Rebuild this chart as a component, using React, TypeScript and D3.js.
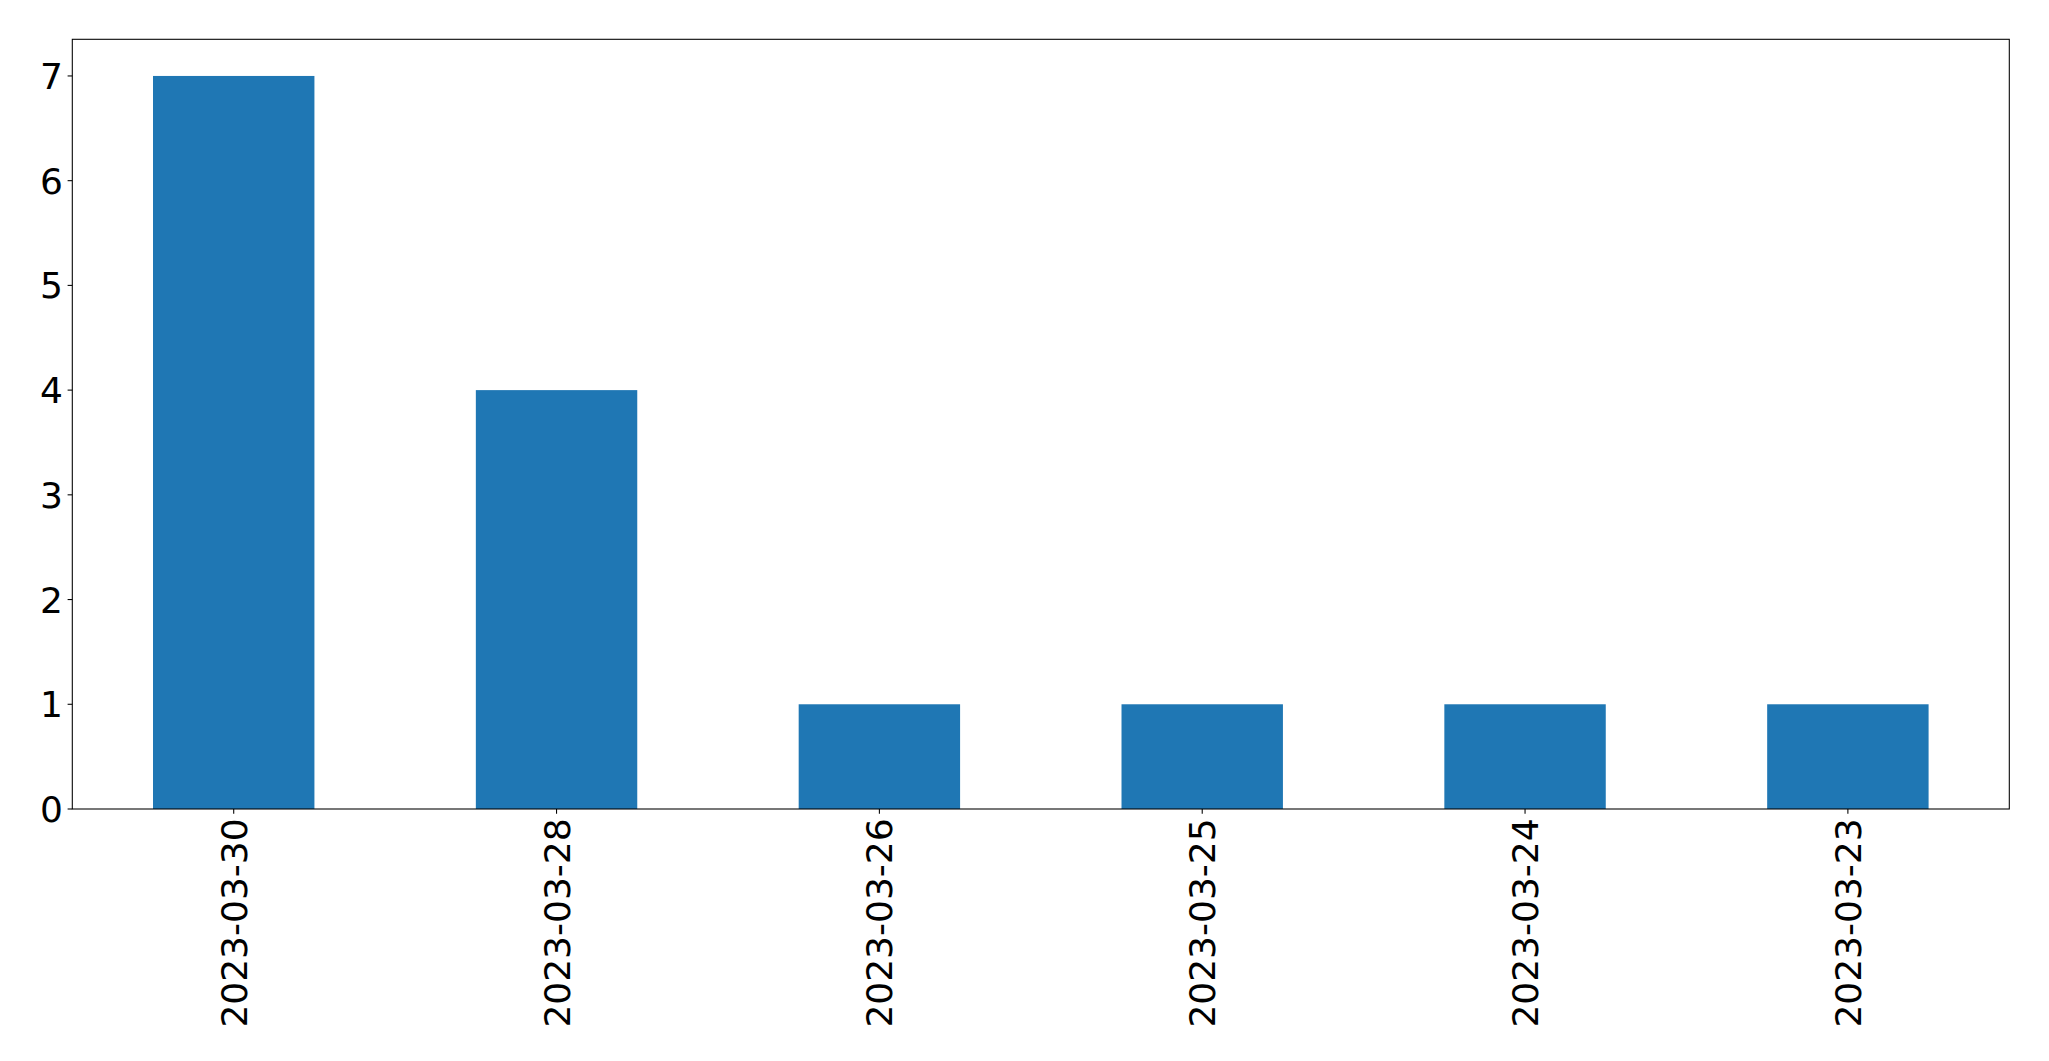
import React, { useEffect, useRef } from "react";
import * as d3 from "d3";

const categories = ["2023-03-30", "2023-03-28", "2023-03-26", "2023-03-25", "2023-03-24", "2023-03-23"];
const counts = [7, 4, 1, 1, 1, 1];
const yTicks = [0, 1, 2, 3, 4, 5, 6, 7];

const W = 2049;
const H = 1061;
const left = 72.3;
const right = 2009.3;
const top = 39.3;
const bottom = 809;
const FONT = "DejaVu Sans, sans-serif";
const FS = 36;

export default function App() {
  const ref = useRef<SVGSVGElement>(null);
  useEffect(() => {
    const svg = d3.select(ref.current);
    svg.selectAll("*").remove();
    const x = d3.scaleBand<string>().domain(categories).range([left, right]).paddingInner(0.5).paddingOuter(0.25);
    const y = d3.scaleLinear().domain([0, 7.35]).range([bottom, top]);

    svg.append("rect").attr("width", W).attr("height", H).attr("fill", "white");

    svg.append("g")
      .selectAll("rect")
      .data(categories)
      .join("rect")
      .attr("x", (d) => x(d)!)
      .attr("width", x.bandwidth())
      .attr("y", (d, i) => y(counts[i]))
      .attr("height", (d, i) => y(0) - y(counts[i]))
      .attr("fill", "#1f77b4");

    // spines
    svg.append("rect")
      .attr("x", left).attr("y", top)
      .attr("width", right - left).attr("height", bottom - top)
      .attr("fill", "none").attr("stroke", "black").attr("stroke-width", 1.07);

    // y axis
    const yg = svg.append("g");
    yTicks.forEach((t) => {
      yg.append("line").attr("x1", left - 4.7).attr("x2", left).attr("y1", y(t)).attr("y2", y(t))
        .attr("stroke", "black").attr("stroke-width", 1.07);
      yg.append("text").attr("x", left - 9.4).attr("y", y(t)).attr("dy", "0.36em")
        .attr("text-anchor", "end").attr("font-family", FONT).attr("font-size", FS).attr("fill", "black")
        .text(String(t));
    });

    // x axis
    const xg = svg.append("g");
    categories.forEach((c) => {
      const cx = x(c)! + x.bandwidth() / 2;
      xg.append("line").attr("x1", cx).attr("x2", cx).attr("y1", bottom).attr("y2", bottom + 4.7)
        .attr("stroke", "black").attr("stroke-width", 1.07);
      xg.append("text")
        .attr("transform", `translate(${cx},${bottom + 9.4}) rotate(-90)`)
        .attr("dy", "0.36em")
        .attr("text-anchor", "end").attr("font-family", FONT).attr("font-size", FS).attr("fill", "black")
        .text(c);
    });
  }, []);
  return (
    <svg ref={ref} width={W} height={H} style={{ position: "absolute", left: 0, top: 0 }} />
  );
}
